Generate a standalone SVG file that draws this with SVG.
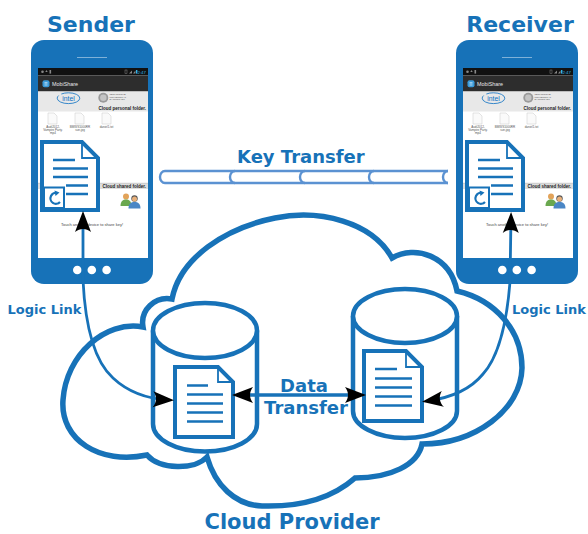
<svg xmlns="http://www.w3.org/2000/svg" xmlns:xlink="http://www.w3.org/1999/xlink" width="588" height="534" viewBox="0 0 588 534">
  <style>
    .lbl{font-family:"DejaVu Sans","Liberation Sans",sans-serif;font-weight:bold;fill:#1772b8}
    .ui{font-family:"Liberation Sans",Arial,sans-serif}
    .doc{fill:#fff;stroke:#1772b8;stroke-width:4}
    .fold{fill:none;stroke:#1772b8;stroke-width:1.8}
    .rule{stroke:#1772b8;stroke-width:2.4}
    .cyl{fill:#fff;stroke:#1772b8;stroke-width:4.5}
    .link{fill:none;stroke:#1772b8;stroke-width:2.8}
    .pipe{fill:none;stroke:#5b92d2;stroke-width:2.4}
    .file{fill:#fafafa;stroke:#c8c8c8;stroke-width:0.5}
    .cap{font-size:3px;fill:#555}
  </style>
  <defs>
    <marker id="head" viewBox="-1 -10 24 20" refX="16" refY="0" markerWidth="24" markerHeight="20" orient="auto-start-reverse" markerUnits="userSpaceOnUse">
      <path d="M21,0 L0,-8 C4,-3 4,3 0,8 Z" fill="#000"/>
    </marker>

    <!-- handset with the MobiShare app screen -->
    <g id="handset">
      <rect x="31" y="40" width="122" height="244" rx="13" fill="#1772b8"/>
      <line x1="77" y1="57.5" x2="107" y2="57.5" stroke="#fff" stroke-opacity="0.45" stroke-width="1"/>
      <rect x="38" y="68" width="110" height="190" fill="#fff"/>
      <!-- status bar -->
      <rect x="38" y="68" width="110" height="7.5" fill="#111"/>
      <circle cx="42.5" cy="71.8" r="1.3" fill="#888"/>
      <path d="M46.5,70 l1.2,2 h-2.4z M46.5,73.6 v0" fill="#888"/>
      <rect x="49.5" y="70" width="1.6" height="3.6" fill="#888"/>
      <rect x="125" y="70" width="2" height="3.6" fill="none" stroke="#888" stroke-width="0.5"/>
      <path d="M129,73.6 l3,-3 v3z" fill="#888"/>
      <path d="M133,73.6 l2.5,-3 v3z" fill="#888"/>
      <rect x="136" y="70" width="1.4" height="3.6" fill="#33b5e5"/>
      <text class="ui" x="146" y="73.8" font-size="4.4" fill="#33b5e5" text-anchor="end">2:47</text>
      <!-- action bar -->
      <rect x="38" y="75.5" width="110" height="16" fill="#2d2d2d"/>
      <rect x="42.5" y="80.3" width="7" height="7" rx="2" fill="#3a9ad9"/>
      <path d="M44.5,82.5 h3 M44.5,83.8 h3 M44.5,85.1 h3" stroke="#fff" stroke-width="0.5"/>
      <text class="ui" x="52" y="85.8" font-size="5.4" fill="#e8e8e8">MobiShare</text>
      <!-- personal folder header -->
      <rect x="38" y="91.5" width="110" height="20" fill="#e8e8e8"/>
      <ellipse cx="68.5" cy="98.2" rx="11.3" ry="5.4" fill="none" stroke="#0a6fc2" stroke-width="0.8" stroke-dasharray="30 3"/>
      <text class="ui" x="68.5" y="100.6" font-size="6.8" fill="#0a6fc2" text-anchor="middle">intel</text>
      <circle cx="103.3" cy="97.7" r="5" fill="#9a9a9a"/>
      <circle cx="103.3" cy="97.7" r="3.2" fill="#c4c4c4"/>
      <text class="ui" x="109.5" y="94.6" font-size="2.5" fill="#555">TECHNISCHE</text>
      <text class="ui" x="109.5" y="97.5" font-size="2.5" fill="#555">UNIVERSITÄT</text>
      <text class="ui" x="109.5" y="100.4" font-size="2.5" fill="#555">DARMSTADT</text>
      <text class="ui" x="146" y="110.4" font-size="4.5" font-weight="bold" fill="#222" text-anchor="end">Cloud personal folder.</text>
      <!-- files -->
      <path class="file" d="M48,113 h6 l3,3 v8 h-9z"/>
      <path class="file" d="M75,113 h6 l3,3 v8 h-9z"/>
      <path class="file" d="M102,113 h6 l3,3 v8 h-9z"/>
      <text class="ui cap" x="53" y="127.7" text-anchor="middle">Audi2012-</text>
      <text class="ui cap" x="53" y="131" text-anchor="middle">Vampire Party.</text>
      <text class="ui cap" x="53" y="134.3" text-anchor="middle">mp4</text>
      <text class="ui cap" x="80" y="127.7" text-anchor="middle">BMWS1000RR</text>
      <text class="ui cap" x="80" y="131" text-anchor="middle">sun.jpg</text>
      <text class="ui cap" x="106.5" y="127.7" text-anchor="middle">daniel1.txt</text>
      <!-- shared folder header -->
      <rect x="38" y="183" width="110" height="6" fill="#dedede"/>
      <line x1="38" y1="183.2" x2="148" y2="183.2" stroke="#b5b5b5" stroke-width="0.5"/>
      <text class="ui" x="146" y="188.3" font-size="4.5" font-weight="bold" fill="#222" text-anchor="end">Cloud shared folder.</text>
      <!-- contacts icon -->
      <circle cx="126" cy="196.5" r="3" fill="#e2a35a"/>
      <path d="M120.5,206 c0,-5 2.5,-6.5 5.5,-6.5 s5.5,1.5 5.5,6.5z" fill="#6aa84f"/>
      <circle cx="134.5" cy="198.5" r="3.2" fill="#555"/>
      <circle cx="134.5" cy="199" r="2.5" fill="#e8b07a"/>
      <path d="M128.5,208.5 c0,-5 2.5,-6.5 6,-6.5 s6,1.5 6,6.5z" fill="#4a86c5"/>
      <text class="ui" x="92" y="226" font-size="4" fill="#444" text-anchor="middle">Touch another device to share key!</text>
      <!-- shared key document -->
      <path class="doc" d="M42,142 L82,142 L98,158 L98,210 L42,210 Z"/>
      <path class="fold" d="M82,142 L82,158 L98,158"/>
      <path class="rule" d="M53,160 H75 M53,168.5 H88 M53,177 H88 M66,185.5 H88 M66,194 H88"/>
      <rect x="44" y="187.5" width="20" height="20.5" fill="#fff" stroke="#1772b8" stroke-width="2"/>
      <path d="M57.5,193 A5.5,5.5 0 1 0 60,202" fill="none" stroke="#1772b8" stroke-width="2.2"/>
      <path d="M54.5,190.5 L59.5,192.5 L55.5,196 Z" fill="#1772b8"/>
      <!-- navigation buttons -->
      <circle cx="77.3" cy="270" r="4.3" fill="#fff"/>
      <circle cx="91.8" cy="270" r="4.3" fill="#fff"/>
      <circle cx="106.6" cy="270" r="4.3" fill="#fff"/>
    </g>
  </defs>

  <!-- cloud provider outline -->
  <g id="cloud">
    <path d="M172,299 C180,258 225,228 275,218 C320,209 372,222 392,258 C415,245 450,255 457,291 C495,300 522,330 522,368 C521,410 475,444 422,444 C418,465 390,478 355,478 C330,500 295,507 262,506 C235,505 215,485 207,457 C195,470 160,470 147,455 C100,465 60,440 63,400 C66,355 105,320 143,327 C140,310 155,296 172,299 Z" fill="none" stroke="#1772b8" stroke-width="5.5" stroke-linejoin="miter" stroke-miterlimit="4"/>
    <text class="lbl" x="292" y="529" font-size="21" text-anchor="middle">Cloud Provider</text>
  </g>

  <!-- storage at the provider, sender side -->
  <g id="store-left">
    <path class="cyl" d="M153,330.5 L153,424 A52,27.5 0 0 0 257,424 L257,330.5"/>
    <ellipse class="cyl" cx="205" cy="330.5" rx="52" ry="27.5"/>
    <path class="doc" d="M175,367 L218,367 L233,382 L233,437 L175,437 Z"/>
    <path class="fold" d="M218,367 L218,382 L233,382"/>
    <path class="rule" d="M187,385.5 H208 M187,394.5 H223 M187,403.5 H223 M187,412.5 H223 M187,421.5 H223"/>
  </g>

  <!-- storage at the provider, receiver side -->
  <g id="store-right">
    <path class="cyl" d="M353,316 L353,411 A52,27 0 0 0 457,411 L457,316"/>
    <ellipse class="cyl" cx="405" cy="316" rx="52" ry="27"/>
    <path class="doc" d="M364,351 L406,351 L422,367 L422,421 L364,421 Z"/>
    <path class="fold" d="M406,351 L406,367 L422,367"/>
    <path class="rule" d="M375,369 H397 M375,378.5 H412 M375,387.5 H412 M375,396.5 H412 M375,405.5 H412"/>
  </g>

  <g id="sender">
    <use xlink:href="#handset" href="#handset"/>
    <text class="lbl" x="91" y="32" font-size="22" text-anchor="middle">Sender</text>
  </g>

  <g id="receiver">
    <use xlink:href="#handset" href="#handset" transform="translate(425,0)"/>
    <text class="lbl" x="520" y="32" font-size="22" text-anchor="middle">Receiver</text>
  </g>

  <!-- connectors -->
  <g id="connectors">
    <g id="key-transfer">
      <path class="pipe" d="M165,171 H448 M165,183 H448"/>
      <path class="pipe" d="M165,171 A5,6 0 0 0 165,183 M235,171 A5,6 0 0 0 235,183 M305,171 A5,6 0 0 0 305,183 M374,171 A5,6 0 0 0 374,183 M448,171 A5,6 0 0 0 448,183"/>
      <path d="M166,172.3 H447 V181.7 H166 Z" fill="#fff" opacity="0"/>
      <text class="lbl" x="237" y="162.7" font-size="18">Key Transfer</text>
    </g>
    <g id="logic-link-sender">
      <path class="link" d="M83,216 L83,280 C85,322 93,360 113,378 C128,392 148,399 169,400" marker-start="url(#head)" marker-end="url(#head)"/>
      <text class="lbl" x="7.5" y="314" font-size="13">Logic Link</text>
    </g>
    <g id="logic-link-receiver">
      <path class="link" d="M511,217 L510,282 C507,320 500,355 483,374 C470,390 450,398 427,401" marker-start="url(#head)" marker-end="url(#head)"/>
      <text class="lbl" x="512" y="313.5" font-size="13">Logic Link</text>
    </g>
    <g id="data-transfer">
      <path d="M237,395 L361,395" fill="none" stroke="#1772b8" stroke-width="3.4" marker-start="url(#head)" marker-end="url(#head)"/>
      <text class="lbl" x="304" y="391.5" font-size="18" text-anchor="middle">Data</text>
      <text class="lbl" x="306" y="414" font-size="18" text-anchor="middle">Transfer</text>
    </g>
  </g>
</svg>
